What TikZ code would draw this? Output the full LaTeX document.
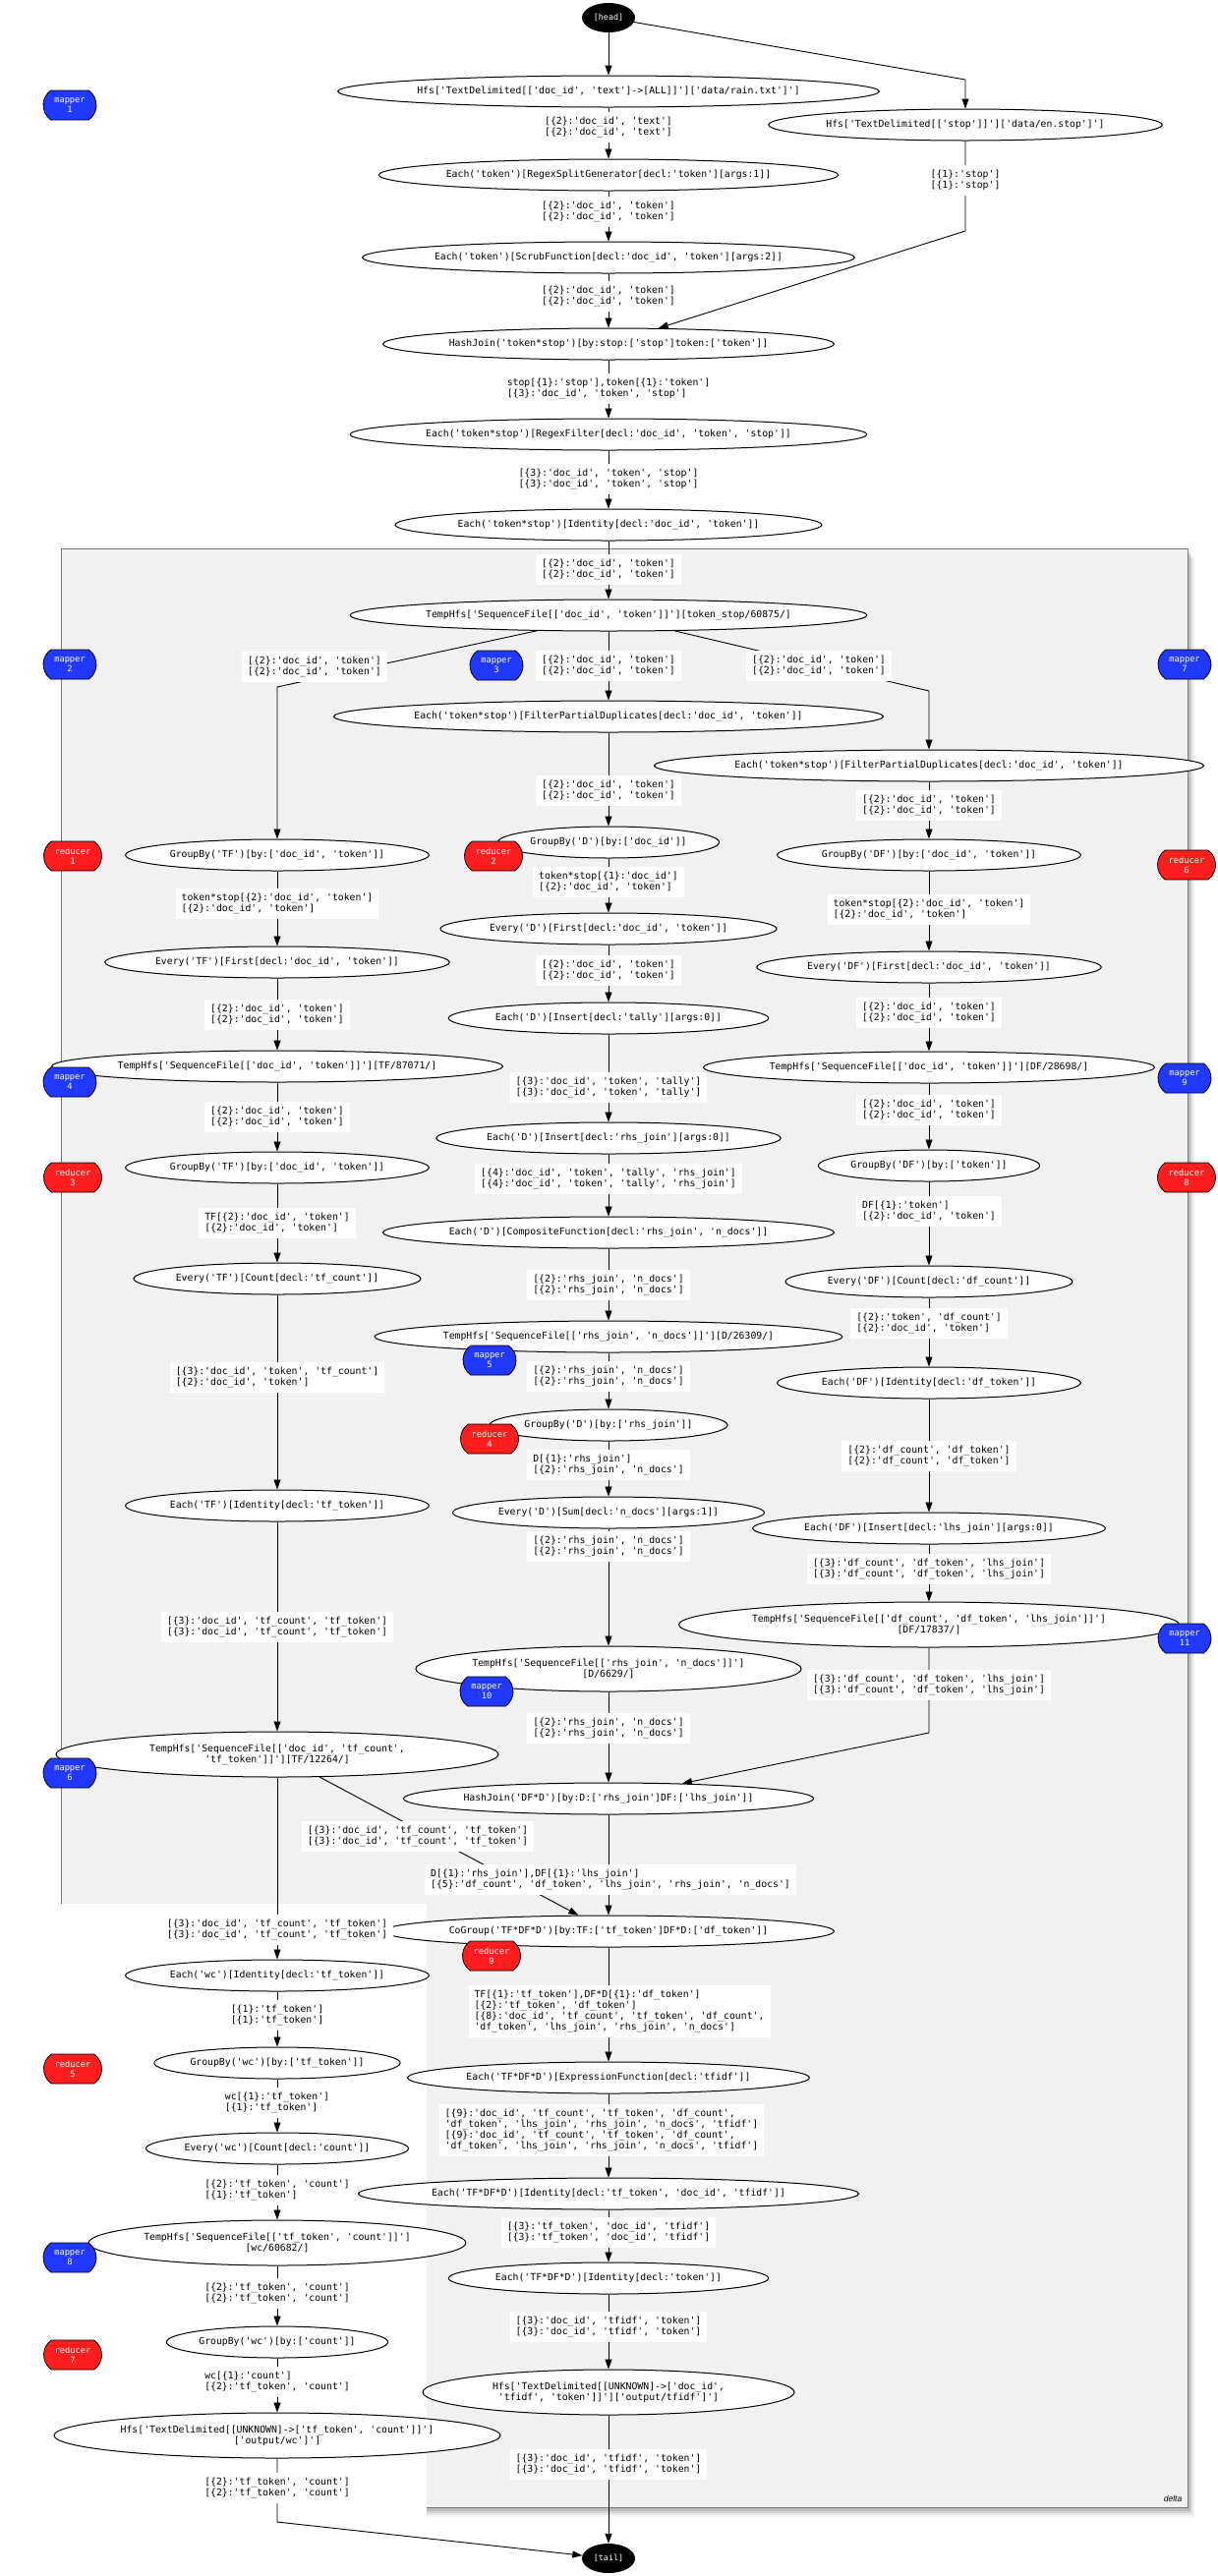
\documentclass[tikz,border=0pt]{standalone}
\usepackage{fontspec}
\setmonofont{DejaVu Sans Mono}
\setsansfont{Liberation Sans}
\usetikzlibrary{shapes.geometric,shapes.misc,arrows.meta}
\pgfdeclarelayer{bg}\pgfdeclarelayer{edges}\pgfsetlayers{bg,edges,main}
\definecolor{mapblue}{RGB}{32,56,255}
\definecolor{redfill}{RGB}{255,30,30}
\definecolor{clfill}{RGB}{241,241,241}
\definecolor{clborder}{RGB}{120,120,120}
\newcommand\opf{\fontsize{9.8}{11}\selectfont\ttfamily}
\newcommand\mrf{\fontsize{8.7}{10}\selectfont\ttfamily}
\newcommand\hdf{\fontsize{8.4}{10}\selectfont\ttfamily}
\newcommand\Ldt{[\{2\}:'doc\_id', 'token']}
\newcommand\Lrn{[\{2\}:'rhs\_join', 'n\_docs']}
\begin{document}
\begin{tikzpicture}[x=1pt,y=-1pt,
  opbase/.style={ellipse, draw=black, line width=1pt, fill=white, inner sep=0pt, font=\opf, align=center},
  op/.style={opbase, minimum width=#1, minimum height=32pt},
  optwo/.style={opbase, minimum width=#1, minimum height=46pt},
  term/.style={ellipse, fill=black, text=white, minimum width=54pt, minimum height=30pt, inner sep=0pt, font=\hdf},
  lab/.style={fill=white, inner xsep=6pt, inner ysep=5pt, font=\opf, align=left},
  mrbase/.style={rounded rectangle, rounded rectangle arc length=110, draw=black, line width=0.8pt, text=white, font=\mrf, minimum height=30pt, inner sep=0pt, align=center},
  mapper/.style={mrbase, fill=mapblue, minimum width=54pt},
  reducer/.style={mrbase, fill=redfill, minimum width=59pt},
  edge/.style={draw=black, line width=0.9pt, -{Triangle[length=10pt,width=7pt]}}]
\useasboundingbox (0,0) rectangle (1239,2621);

% cluster
\begin{pgfonlayer}{bg}
\fill[white] (0,0) rectangle (1239,2621);
\foreach \s/\o in {1/0.14,2.5/0.11,4/0.08,5.5/0.06,7/0.04}
  \fill[black,opacity=\o] (62+\s,558+1.4*\s) rectangle (1208+\s,2551+1.4*\s);
\draw[draw=clborder, fill=clfill, line width=0.8pt] (62,558) rectangle (1208,2551);
\fill[white] (0,1937) rectangle (434,2621);
\end{pgfonlayer}

% terminals
\node[term] (head) at (619,18) {[head]};
\node[term] (tail) at (619,2603) {[tail]};

% middle column
\node[op=510pt] (hrain) at (619,93) {Hfs['TextDelimited[['doc\_id', 'text']->[ALL]]']['data/rain.txt']']};
\node[op=376pt] (hstop) at (982,127) {Hfs['TextDelimited[['stop']]']['data/en.stop']']};
\node[op=434pt] (rsplit) at (619,178) {Each('token')[RegexSplitGenerator[decl:'token'][args:1]]};
\node[op=464pt] (scrub) at (619,262) {Each('token')[ScrubFunction[decl:'doc\_id', 'token'][args:2]]};
\node[op=426pt] (hjoin) at (619,350) {HashJoin('token*stop')[by:stop:['stop']token:['token']]};
\node[op=488pt] (rfilter) at (619,442) {Each('token*stop')[RegexFilter[decl:'doc\_id', 'token', 'stop']]};
\node[op=404pt] (ident) at (619,534) {Each('token*stop')[Identity[decl:'doc\_id', 'token']]};
\node[op=488pt] (tstop) at (619,626) {TempHfs['SequenceFile[['doc\_id', 'token']]'][token\_stop/60875/]};
\node[op=516pt] (fpdm) at (619,729) {Each('token*stop')[FilterPartialDuplicates[decl:'doc\_id', 'token']]};
\node[op=216pt] (gbd) at (619,857) {GroupBy('D')[by:['doc\_id']]};
\node[op=320pt] (evdf) at (619,945) {Every('D')[First[decl:'doc\_id', 'token']]};
\node[op=306pt] (instally) at (619,1036) {Each('D')[Insert[decl:'tally'][args:0]]};
\node[op=328pt] (insrhs) at (619,1158) {Each('D')[Insert[decl:'rhs\_join'][args:0]]};
\node[op=426pt] (comp) at (619,1254) {Each('D')[CompositeFunction[decl:'rhs\_join', 'n\_docs']]};
\node[op=442pt] (d26309) at (619,1360) {TempHfs['SequenceFile[['rhs\_join', 'n\_docs']]'][D/26309/]};
\node[op=232pt] (gbdrhs) at (619,1450) {GroupBy('D')[by:['rhs\_join']]};
\node[op=300pt] (evdsum) at (619,1539) {Every('D')[Sum[decl:'n\_docs'][args:1]]};
\node[optwo=366pt] (d6629) at (619,1698) {TempHfs['SequenceFile[['rhs\_join', 'n\_docs']]']\\{}[D/6629/]};
\node[op=388pt] (hjdfd) at (619,1830) {HashJoin('DF*D')[by:D:['rhs\_join']DF:['lhs\_join']]};
\node[op=426pt] (cogroup) at (619,1965) {CoGroup('TF*DF*D')[by:TF:['tf\_token']DF*D:['df\_token']]};
\node[op=382pt] (exprfn) at (619,2114) {Each('TF*DF*D')[ExpressionFunction[decl:'tfidf']]};
\node[op=472pt] (idtdt) at (619,2232) {Each('TF*DF*D')[Identity[decl:'tf\_token', 'doc\_id', 'tfidf']]};
\node[op=306pt] (idtok) at (619,2318) {Each('TF*DF*D')[Identity[decl:'token']]};
\node[optwo=378pt] (htfidf) at (619,2434) {Hfs['TextDelimited[[UNKNOWN]->['doc\_id',\\'tfidf', 'token']]']['output/tfidf']']};

% left column
\node[op=292pt] (gbtf) at (282,870) {GroupBy('TF')[by:['doc\_id', 'token']]};
\node[op=330pt] (evtff) at (282,979) {Every('TF')[First[decl:'doc\_id', 'token']]};
\node[op=428pt] (tf87071) at (282,1085) {TempHfs['SequenceFile[['doc\_id', 'token']]'][TF/87071/]};
\node[op=292pt] (gbtf2) at (282,1188) {GroupBy('TF')[by:['doc\_id', 'token']]};
\node[op=276pt] (evtfc) at (282,1301) {Every('TF')[Count[decl:'tf\_count']]};
\node[op=292pt] (eachtfid) at (282,1532) {Each('TF')[Identity[decl:'tf\_token']]};
\node[optwo=450pt] (tf12264) at (282,1785) {TempHfs['SequenceFile[['doc\_id', 'tf\_count',\\'tf\_token']]'][TF/12264/]};
\node[op=292pt] (eachwc) at (282,2010) {Each('wc')[Identity[decl:'tf\_token']]};
\node[op=238pt] (gbwc) at (282,2099) {GroupBy('wc')[by:['tf\_token']]};
\node[op=254pt] (evwc) at (282,2186) {Every('wc')[Count[decl:'count']]};
\node[optwo=360pt] (wc60682) at (282,2282) {TempHfs['SequenceFile[['tf\_token', 'count']]']\\{}[wc/60682/]};
\node[op=216pt] (gbwcc) at (282,2383) {GroupBy('wc')[by:['count']]};
\node[optwo=454pt] (hwc) at (282,2478) {Hfs['TextDelimited[[UNKNOWN]->['tf\_token', 'count']]']\\{}['output/wc']']};

% right column
\node[op=516pt] (fpdr) at (945,779) {Each('token*stop')[FilterPartialDuplicates[decl:'doc\_id', 'token']]};
\node[op=292pt] (gbdf) at (945,870) {GroupBy('DF')[by:['doc\_id', 'token']]};
\node[op=330pt] (evdff) at (945,984) {Every('DF')[First[decl:'doc\_id', 'token']]};
\node[op=428pt] (df28698) at (945,1086) {TempHfs['SequenceFile[['doc\_id', 'token']]'][DF/28698/]};
\node[op=216pt] (gbdft) at (945,1186) {GroupBy('DF')[by:['token']]};
\node[op=276pt] (evdfc) at (945,1304) {Every('DF')[Count[decl:'df\_count']]};
\node[op=292pt] (eachdfid) at (945,1407) {Each('DF')[Identity[decl:'df\_token']]};
\node[op=338pt] (inslhs) at (945,1555) {Each('DF')[Insert[decl:'lhs\_join'][args:0]]};
\node[optwo=486pt] (df17837) at (945,1653) {TempHfs['SequenceFile[['df\_count', 'df\_token', 'lhs\_join']]']\\{}[DF/17837/]};

% bend coordinates
\coordinate (kA) at (982,81);
\coordinate (kB) at (982,235);
\coordinate (kC) at (282,699);
\coordinate (kD) at (945,703);
\coordinate (kE) at (945,1763);
\coordinate (kF) at (282,2566);

% edges
\begin{pgfonlayer}{edges}
\draw[edge] (head) -- (hrain);
\draw[edge] (head) -- (kA) -- (hstop);
\draw[edge] (hrain) -- (rsplit);
\draw[edge] (rsplit) -- (scrub);
\draw[edge] (scrub) -- (hjoin);
\draw[edge] (hstop) -- (kB) -- (hjoin);
\draw[edge] (hjoin) -- (rfilter);
\draw[edge] (rfilter) -- (ident);
\draw[edge] (ident) -- (tstop);
\draw[edge] (tstop) -- (kC) -- (gbtf);
\draw[edge] (tstop) -- (fpdm);
\draw[edge] (tstop) -- (kD) -- (fpdr);
\draw[edge] (fpdm) -- (gbd);
\draw[edge] (gbd) -- (evdf);
\draw[edge] (evdf) -- (instally);
\draw[edge] (instally) -- (insrhs);
\draw[edge] (insrhs) -- (comp);
\draw[edge] (comp) -- (d26309);
\draw[edge] (d26309) -- (gbdrhs);
\draw[edge] (gbdrhs) -- (evdsum);
\draw[edge] (evdsum) -- (d6629);
\draw[edge] (d6629) -- (hjdfd);
\draw[edge] (hjdfd) -- (cogroup);
\draw[edge] (cogroup) -- (exprfn);
\draw[edge] (exprfn) -- (idtdt);
\draw[edge] (idtdt) -- (idtok);
\draw[edge] (idtok) -- (htfidf);
\draw[edge] (htfidf) -- (tail);
\draw[edge] (gbtf) -- (evtff);
\draw[edge] (evtff) -- (tf87071);
\draw[edge] (tf87071) -- (gbtf2);
\draw[edge] (gbtf2) -- (evtfc);
\draw[edge] (evtfc) -- (eachtfid);
\draw[edge] (eachtfid) -- (tf12264);
\draw[edge] (tf12264) -- (cogroup);
\draw[edge] (tf12264) -- (eachwc);
\draw[edge] (eachwc) -- (gbwc);
\draw[edge] (gbwc) -- (evwc);
\draw[edge] (evwc) -- (wc60682);
\draw[edge] (wc60682) -- (gbwcc);
\draw[edge] (gbwcc) -- (hwc);
\draw[edge] (hwc) -- (kF) -- (tail);
\draw[edge] (fpdr) -- (gbdf);
\draw[edge] (gbdf) -- (evdff);
\draw[edge] (evdff) -- (df28698);
\draw[edge] (df28698) -- (gbdft);
\draw[edge] (gbdft) -- (evdfc);
\draw[edge] (evdfc) -- (eachdfid);
\draw[edge] (eachdfid) -- (inslhs);
\draw[edge] (inslhs) -- (df17837);
\draw[edge] (df17837) -- (kE) -- (hjdfd);
\end{pgfonlayer}

% edge labels, middle
\node[lab] (l01) at (619,129.5) {[\{2\}:'doc\_id', 'text']\\{}[\{2\}:'doc\_id', 'text']};
\node[lab] (l02) at (619,215.5) {\Ldt\\\Ldt};
\node[lab] (l03) at (619,301.5) {\Ldt\\\Ldt};
\node[lab] (l04) at (619,395.5) {stop[\{1\}:'stop'],token[\{1\}:'token']\\{}[\{3\}:'doc\_id', 'token', 'stop']};
\node[lab] (l05) at (619,487.5) {[\{3\}:'doc\_id', 'token', 'stop']\\{}[\{3\}:'doc\_id', 'token', 'stop']};
\node[lab] (l06) at (619,579.5) {\Ldt\\\Ldt};
\node[lab] (l07) at (619,677.5) {\Ldt\\\Ldt};
\node[lab] (l08) at (619,804.5) {\Ldt\\\Ldt};
\node[lab] (l09) at (619,897.5) {token*stop[\{1\}:'doc\_id']\\\Ldt};
\node[lab] (l10) at (619,987.5) {\Ldt\\\Ldt};
\node[lab] (l11) at (619,1106.5) {[\{3\}:'doc\_id', 'token', 'tally']\\{}[\{3\}:'doc\_id', 'token', 'tally']};
\node[lab] (l12) at (619,1199.5) {[\{4\}:'doc\_id', 'token', 'tally', 'rhs\_join']\\{}[\{4\}:'doc\_id', 'token', 'tally', 'rhs\_join']};
\node[lab] (l13) at (619,1307.5) {\Lrn\\\Lrn};
\node[lab] (l14) at (619,1400.5) {\Lrn\\\Lrn};
\node[lab] (l15) at (619,1490.5) {D[\{1\}:'rhs\_join']\\\Lrn};
\node[lab] (l16) at (619,1573.5) {\Lrn\\\Lrn};
\node[lab] (l17) at (619,1758.5) {\Lrn\\\Lrn};
\node[lab] (l18) at (621,1912.5) {D[\{1\}:'rhs\_join'],DF[\{1\}:'lhs\_join']\\{}[\{5\}:'df\_count', 'df\_token', 'lhs\_join', 'rhs\_join', 'n\_docs']};
\node[lab] (l19) at (630,2046.5) {TF[\{1\}:'tf\_token'],DF*D[\{1\}:'df\_token']\\{}[\{2\}:'tf\_token', 'df\_token']\\{}[\{8\}:'doc\_id', 'tf\_count', 'tf\_token', 'df\_count',\\'df\_token', 'lhs\_join', 'rhs\_join', 'n\_docs']};
\node[lab] (l20) at (612,2167.5) {[\{9\}:'doc\_id', 'tf\_count', 'tf\_token', 'df\_count',\\'df\_token', 'lhs\_join', 'rhs\_join', 'n\_docs', 'tfidf']\\{}[\{9\}:'doc\_id', 'tf\_count', 'tf\_token', 'df\_count',\\'df\_token', 'lhs\_join', 'rhs\_join', 'n\_docs', 'tfidf']};
\node[lab] (l21) at (619,2271.5) {[\{3\}:'tf\_token', 'doc\_id', 'tfidf']\\{}[\{3\}:'tf\_token', 'doc\_id', 'tfidf']};
\node[lab] (l22) at (619,2367.5) {[\{3\}:'doc\_id', 'tfidf', 'token']\\{}[\{3\}:'doc\_id', 'tfidf', 'token']};
\node[lab] (l23) at (619,2507.5) {[\{3\}:'doc\_id', 'tfidf', 'token']\\{}[\{3\}:'doc\_id', 'tfidf', 'token']};
\node[lab] (l24) at (982,183.5) {[\{1\}:'stop']\\{}[\{1\}:'stop']};

% edge labels, left
\node[lab] (l30) at (320,678.5) {\Ldt\\\Ldt};
\node[lab] (l31) at (282,919.5) {token*stop[\{2\}:'doc\_id', 'token']\\\Ldt};
\node[lab] (l32) at (282,1032.5) {\Ldt\\\Ldt};
\node[lab] (l33) at (282,1136.5) {\Ldt\\\Ldt};
\node[lab] (l34) at (282,1244.5) {TF[\{2\}:'doc\_id', 'token']\\\Ldt};
\node[lab] (l35) at (282,1401.5) {[\{3\}:'doc\_id', 'token', 'tf\_count']\\\Ldt};
\node[lab] (l36) at (282,1655.5) {[\{3\}:'doc\_id', 'tf\_count', 'tf\_token']\\{}[\{3\}:'doc\_id', 'tf\_count', 'tf\_token']};
\node[lab] (l37) at (425,1868.5) {[\{3\}:'doc\_id', 'tf\_count', 'tf\_token']\\{}[\{3\}:'doc\_id', 'tf\_count', 'tf\_token']};
\node[lab] (l38) at (282,1963.5) {[\{3\}:'doc\_id', 'tf\_count', 'tf\_token']\\{}[\{3\}:'doc\_id', 'tf\_count', 'tf\_token']};
\node[lab] (l39) at (282,2050.5) {[\{1\}:'tf\_token']\\{}[\{1\}:'tf\_token']};
\node[lab] (l40) at (282,2139.5) {wc[\{1\}:'tf\_token']\\{}[\{1\}:'tf\_token']};
\node[lab] (l41) at (282,2228.5) {[\{2\}:'tf\_token', 'count']\\{}[\{1\}:'tf\_token']};
\node[lab] (l42) at (282,2333.5) {[\{2\}:'tf\_token', 'count']\\{}[\{2\}:'tf\_token', 'count']};
\node[lab] (l43) at (282,2423.5) {wc[\{1\}:'count']\\{}[\{2\}:'tf\_token', 'count']};
\node[lab] (l44) at (282,2531.5) {[\{2\}:'tf\_token', 'count']\\{}[\{2\}:'tf\_token', 'count']};

% edge labels, right
\node[lab] (l50) at (833,677.5) {\Ldt\\\Ldt};
\node[lab] (l51) at (945,819.5) {\Ldt\\\Ldt};
\node[lab] (l52) at (945,925.5) {token*stop[\{2\}:'doc\_id', 'token']\\\Ldt};
\node[lab] (l53) at (945,1030.5) {\Ldt\\\Ldt};
\node[lab] (l54) at (945,1129.5) {\Ldt\\\Ldt};
\node[lab] (l55) at (945,1232.5) {DF[\{1\}:'token']\\\Ldt};
\node[lab] (l56) at (945,1346.5) {[\{2\}:'token', 'df\_count']\\\Ldt};
\node[lab] (l57) at (945,1481.5) {[\{2\}:'df\_count', 'df\_token']\\{}[\{2\}:'df\_count', 'df\_token']};
\node[lab] (l58) at (945,1596.5) {[\{3\}:'df\_count', 'df\_token', 'lhs\_join']\\{}[\{3\}:'df\_count', 'df\_token', 'lhs\_join']};
\node[lab] (l59) at (945,1714.5) {[\{3\}:'df\_count', 'df\_token', 'lhs\_join']\\{}[\{3\}:'df\_count', 'df\_token', 'lhs\_join']};

% mappers and reducers
\node[mapper] (m1) at (71,107) {mapper\\1};
\node[mapper] (m2) at (71,676) {mapper\\2};
\node[mapper] (m3) at (505,677) {mapper\\3};
\node[mapper] (m7) at (1205,676) {mapper\\7};
\node[reducer] (r1) at (74,871) {reducer\\1};
\node[reducer] (r2) at (502,871) {reducer\\2};
\node[reducer] (r6) at (1207,880) {reducer\\6};
\node[mapper] (m4) at (71,1101) {mapper\\4};
\node[reducer] (r3) at (74,1198) {reducer\\3};
\node[mapper] (m9) at (1205,1097) {mapper\\9};
\node[reducer] (r8) at (1207,1198) {reducer\\8};
\node[mapper] (m5) at (498,1384) {mapper\\5};
\node[reducer] (r4) at (498,1464) {reducer\\4};
\node[mapper] (m10) at (495,1721) {mapper\\10};
\node[mapper] (m11) at (1205,1667) {mapper\\11};
\node[mapper] (m6) at (71,1804) {mapper\\6};
\node[reducer] (r9) at (500,1990) {reducer\\9};
\node[reducer] (r5) at (74,2105) {reducer\\5};
\node[mapper] (m8) at (71,2297) {mapper\\8};
\node[reducer] (r7) at (74,2396) {reducer\\7};

\node[font=\sffamily\itshape\fontsize{8.5}{10}\selectfont, inner sep=0pt] (delta) at (1193,2542) {delta};
\end{tikzpicture}
\end{document}
